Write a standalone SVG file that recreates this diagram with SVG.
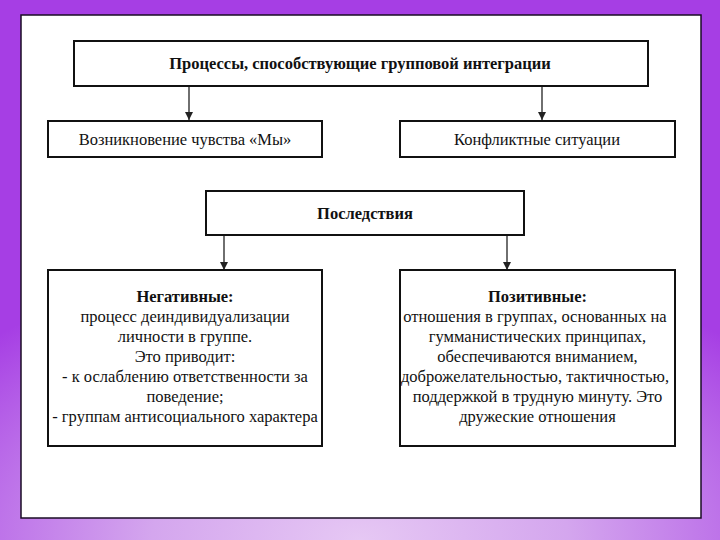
<svg xmlns="http://www.w3.org/2000/svg" width="720" height="540" viewBox="0 0 720 540">
<defs>
<radialGradient id="bg" cx="360" cy="540" r="520" gradientUnits="userSpaceOnUse" gradientTransform="translate(0,540) scale(1,0.55) translate(0,-540)">
<stop offset="0" stop-color="#e6c8f4"/>
<stop offset="0.4" stop-color="#d4a6ee"/>
<stop offset="1" stop-color="#a63ee4"/>
</radialGradient>
<marker id="ah" viewBox="0 0 10 10" refX="10" refY="5" markerWidth="8" markerHeight="8" markerUnits="userSpaceOnUse" orient="auto">
<path d="M0,0 L10,5 L0,10 Z" fill="#222"/>
</marker>
<style>
.box{fill:#fff;stroke:#111;stroke-width:2}
.t{font-family:"Liberation Serif","Times New Roman",serif;font-size:16.5px;fill:#111;text-anchor:middle}
.b{font-weight:bold}
.c{stroke:#222;stroke-width:1.3;fill:none;marker-end:url(#ah)}
</style>
</defs>
<rect x="0" y="0" width="720" height="540" fill="url(#bg)"/>
<rect x="21" y="15" width="680" height="503" fill="#fff" stroke="#1a0d24" stroke-width="1.5"/>
<g id="connectors">
<line class="c" x1="189" y1="86" x2="189" y2="120"/>
<line class="c" x1="542" y1="86" x2="542" y2="120"/>
<line class="c" x1="224" y1="235" x2="224" y2="270"/>
<line class="c" x1="507" y1="235" x2="507" y2="270"/>
</g>
<g id="n-top">
<rect class="box" x="74" y="41" width="574" height="45"/>
<text class="t b" x="360" y="69">Процессы, способствующие групповой интеграции</text>
</g>
<g id="n-we">
<rect class="box" x="48" y="121" width="274" height="36"/>
<text class="t" x="185" y="144.5">Возникновение чувства «Мы»</text>
</g>
<g id="n-conflict">
<rect class="box" x="400" y="121" width="275" height="36"/>
<text class="t" x="537" y="144.5">Конфликтные ситуации</text>
</g>
<g id="n-conseq">
<rect class="box" x="206" y="191" width="318" height="44"/>
<text class="t b" x="365" y="218.5">Последствия</text>
</g>
<g id="n-neg">
<rect class="box" x="48" y="270" width="274" height="176"/>
<text class="t b" x="185" y="302">Негативные:</text>
<text class="t" x="185" y="322">процесс деиндивидуализации</text>
<text class="t" x="185" y="342">личности в группе.</text>
<text class="t" x="185" y="362">Это приводит:</text>
<text class="t" x="185" y="382">- к ослаблению ответственности за</text>
<text class="t" x="185" y="402">поведение;</text>
<text class="t" x="185" y="422">- группам антисоциального характера</text>
</g>
<g id="n-pos">
<rect class="box" x="400" y="270" width="275" height="176"/>
<text class="t b" x="537.5" y="302">Позитивные:</text>
<text class="t" x="535" y="322">отношения в группах, основанных на</text>
<text class="t" x="537.5" y="342">гумманистических принципах,</text>
<text class="t" x="537.5" y="362">обеспечиваются вниманием,</text>
<text class="t" x="535" y="382">доброжелательностью, тактичностью,</text>
<text class="t" x="537.5" y="402">поддержкой в трудную минуту. Это</text>
<text class="t" x="537.5" y="422">дружеские отношения</text>
</g>
</svg>
